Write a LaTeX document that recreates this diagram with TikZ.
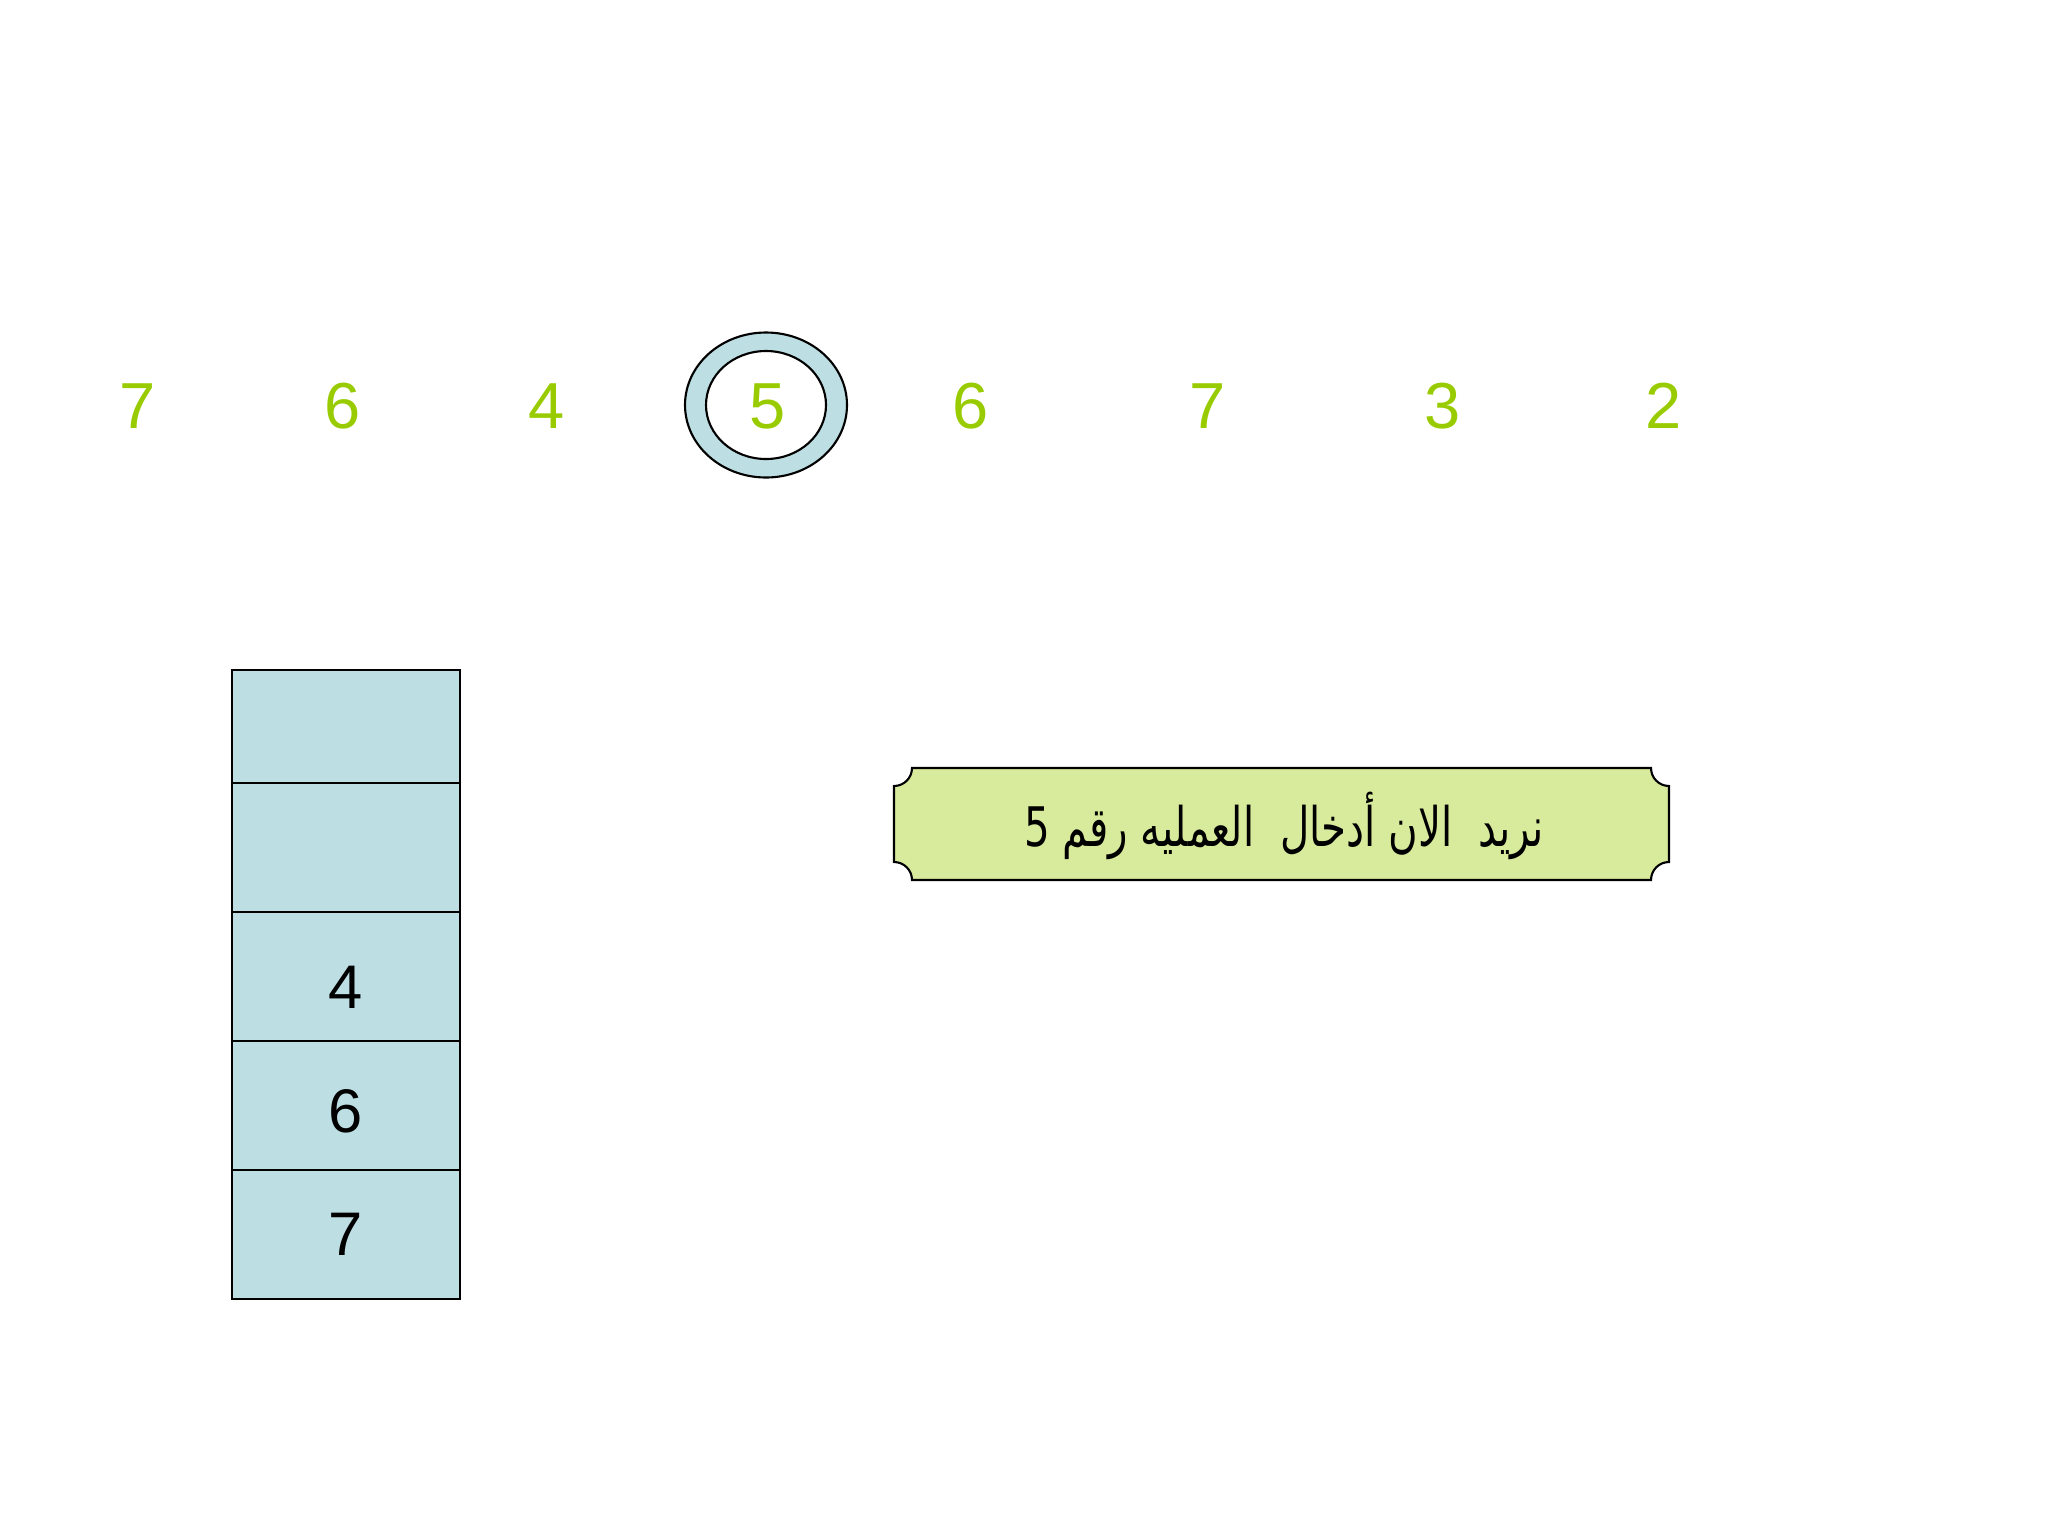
\documentclass[tikz,border=0pt]{standalone}
\usepackage{fontspec}
\setmainfont{Liberation Sans}
\newfontfamily\arabicfont[Script=Arabic,FakeStretch=0.74]{DejaVu Sans}
\TeXXeTstate=1
\definecolor{ringblue}{HTML}{BDDFE3}
\definecolor{digitgreen}{HTML}{99CC00}
\definecolor{plaquegreen}{HTML}{D8EB9C}
\tikzset{
  seqnum/.style={text=digitgreen, font=\fontsize{18.5pt}{20pt}\selectfont, inner sep=0pt},
  cell/.style={draw=black, line width=0.5pt, fill=ringblue},
  cellnum/.style={text=black, font=\fontsize{17.5pt}{19pt}\selectfont, inner sep=0pt},
}
\begin{document}
\begin{tikzpicture}[x=0.01cm, y=-0.01cm]
\useasboundingbox[fill=white] (0,0) rectangle (2048,1536);
% ring
\fill[ringblue, draw=black, line width=0.6pt] (766,405) ellipse [x radius=81, y radius=72.5];
\fill[white, draw=black, line width=0.6pt] (766,405) ellipse [x radius=60, y radius=54];
% sequence
\node[seqnum] (n1) at (138,406) {7};
\node[seqnum] (n2) at (343,406) {6};
\node[seqnum] (n3) at (547,406) {4};
\node[seqnum] (n4) at (768,406) {5};
\node[seqnum] (n5) at (971,406) {6};
\node[seqnum] (n6) at (1208,406) {7};
\node[seqnum] (n7) at (1443,406) {3};
\node[seqnum] (n8) at (1664,406) {2};
% stack
\draw[cell] (232,670) rectangle (460,783);
\draw[cell] (232,783) rectangle (460,912);
\draw[cell] (232,912) rectangle (460,1041);
\draw[cell] (232,1041) rectangle (460,1170);
\draw[cell] (232,1170) rectangle (460,1299);
\node[cellnum] (s3) at (346,987) {4};
\node[cellnum] (s4) at (346,1111) {6};
\node[cellnum] (s5) at (346,1234) {7};
% plaque
\def\L{894}\def\R{1669}\def\T{768}\def\B{880}\def\r{18}
\draw[fill=plaquegreen, draw=black, line width=0.6pt]
  (\L,\T+\r) arc[start angle=90, end angle=0, radius=\r]
  -- (\R-\r,\T) arc[start angle=180, end angle=90, radius=\r]
  -- (\R,\B-\r) arc[start angle=270, end angle=180, radius=\r]
  -- (\L+\r,\B) arc[start angle=360, end angle=270, radius=\r]
  -- cycle;
\node[inner sep=0pt, font=\fontsize{15.5pt}{18pt}\selectfont] (msg) at (1284,826)
  {\arabicfont\beginR نريد\ \ الان أدخال\ \ العمليه رقم 5\endR};
\end{tikzpicture}
\end{document}
